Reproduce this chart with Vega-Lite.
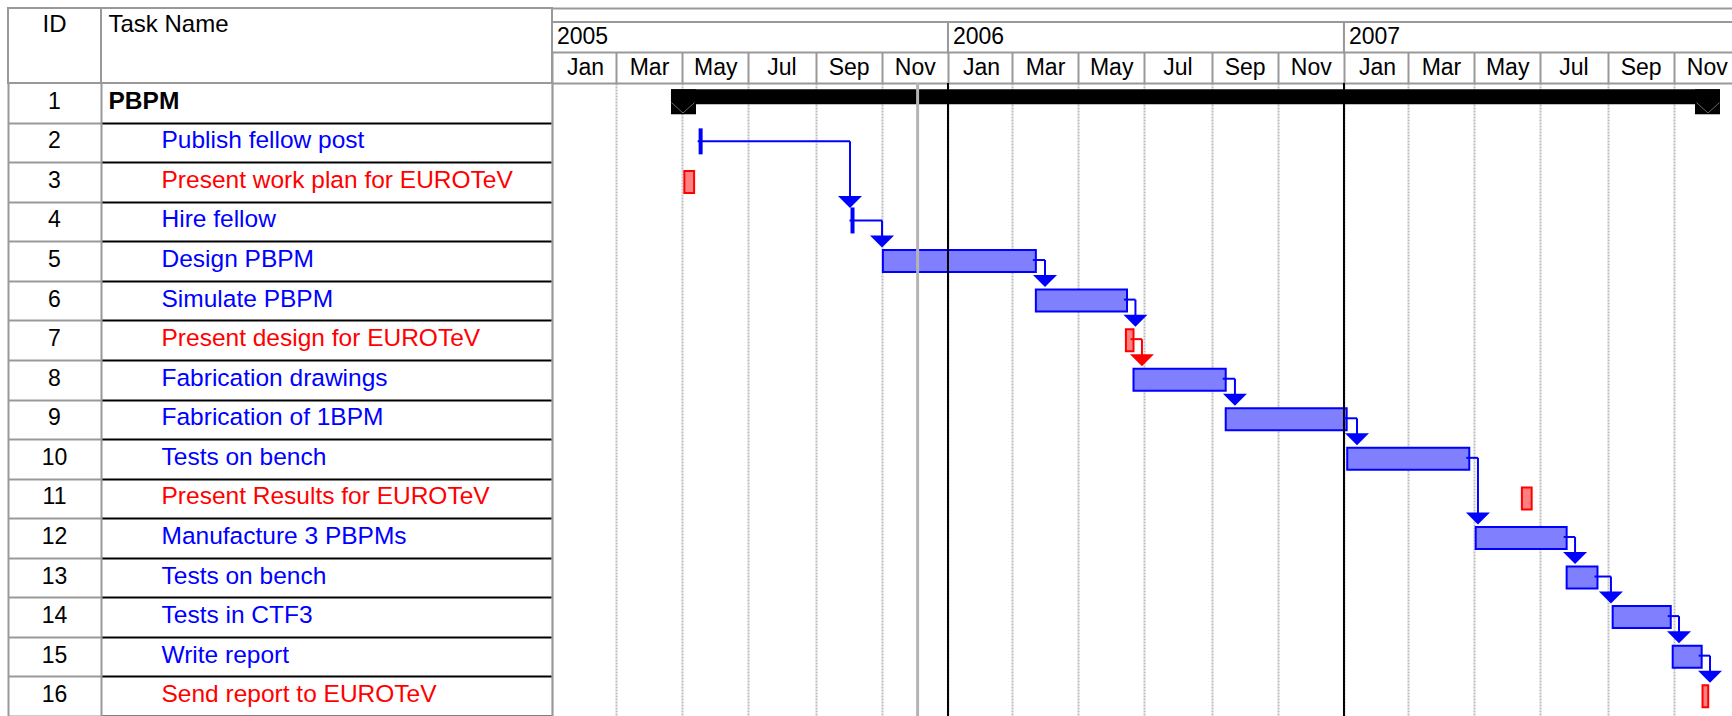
{
  "$schema": "https://vega.github.io/schema/vega-lite/v6.json",
  "padding": {"left": 7, "top": 7, "right": 0, "bottom": 0},
  "background": "white",
  "spacing": 0,
  "bounds": "flush",
  "align": "each",
  "columns": 3,
  "config": {
    "font": "Liberation Sans",
    "view": {"stroke": null},
    "concat": {"spacing": 0}
  },
  "datasets": {
    "tasks": [
      {"id": 1, "name": "PBPM", "level": 0, "type": "summary", "start": "2005-04-20T16:00:00Z", "end": "2007-12-13T14:00:00Z"},
      {"id": 2, "name": "Publish fellow post", "level": 1, "type": "event", "start": "2005-05-18T00:00:00Z", "end": "2005-05-18T00:00:00Z"},
      {"id": 3, "name": "Present work plan for EUROTeV", "level": 1, "type": "deliverable", "start": "2005-05-03T00:00:00Z", "end": "2005-05-12T00:00:00Z"},
      {"id": 4, "name": "Hire fellow", "level": 1, "type": "event", "start": "2005-10-05T00:00:00Z", "end": "2005-10-05T00:00:00Z"},
      {"id": 5, "name": "Design PBPM", "level": 1, "type": "task", "start": "2005-11-02T00:00:00Z", "end": "2006-03-23T00:00:00Z"},
      {"id": 6, "name": "Simulate PBPM", "level": 1, "type": "task", "start": "2006-03-23T00:00:00Z", "end": "2006-06-15T00:00:00Z"},
      {"id": 7, "name": "Present design for EUROTeV", "level": 1, "type": "deliverable", "start": "2006-06-14T00:00:00Z", "end": "2006-06-21T00:00:00Z"},
      {"id": 8, "name": "Fabrication drawings", "level": 1, "type": "task", "start": "2006-06-21T00:00:00Z", "end": "2006-09-14T00:00:00Z"},
      {"id": 9, "name": "Fabrication of 1BPM", "level": 1, "type": "task", "start": "2006-09-14T00:00:00Z", "end": "2007-01-03T12:00:00Z"},
      {"id": 10, "name": "Tests on bench", "level": 1, "type": "task", "start": "2007-01-04T00:00:00Z", "end": "2007-04-26T12:00:00Z"},
      {"id": 11, "name": "Present Results for EUROTeV", "level": 1, "type": "deliverable", "start": "2007-06-14T00:00:00Z", "end": "2007-06-23T00:00:00Z"},
      {"id": 12, "name": "Manufacture 3 PBPMs", "level": 1, "type": "task", "start": "2007-05-02T10:00:00Z", "end": "2007-07-25T06:00:00Z"},
      {"id": 13, "name": "Tests on bench", "level": 1, "type": "task", "start": "2007-07-25T06:00:00Z", "end": "2007-08-22T16:00:00Z"},
      {"id": 14, "name": "Tests in CTF3", "level": 1, "type": "task", "start": "2007-09-05T16:00:00Z", "end": "2007-10-29T05:00:00Z"},
      {"id": 15, "name": "Write report", "level": 1, "type": "task", "start": "2007-10-31T00:00:00Z", "end": "2007-11-26T17:00:00Z"},
      {"id": 16, "name": "Send report to EUROTeV", "level": 1, "type": "deliverable", "start": "2007-11-27T12:00:00Z", "end": "2007-12-02T18:00:00Z"}
    ],
    "links": [
      {"from": 2, "to": 4, "start": "2005-05-18T00:00:00Z", "turn": "2005-10-02T17:00:00Z", "type": "task"},
      {"from": 4, "to": 5, "start": "2005-10-05T00:00:00Z", "turn": "2005-11-01T05:00:00Z", "type": "task"},
      {"from": 5, "to": 6, "start": "2006-03-23T00:00:00Z", "turn": "2006-03-31T10:00:00Z", "type": "task"},
      {"from": 6, "to": 7, "start": "2006-06-15T00:00:00Z", "turn": "2006-06-22T19:00:00Z", "type": "task"},
      {"from": 7, "to": 8, "start": "2006-06-21T00:00:00Z", "turn": "2006-06-28T19:00:00Z", "type": "deliverable"},
      {"from": 8, "to": 9, "start": "2006-09-14T00:00:00Z", "turn": "2006-09-22T12:00:00Z", "type": "task"},
      {"from": 9, "to": 10, "start": "2007-01-03T12:00:00Z", "turn": "2007-01-13T00:00:00Z", "type": "task"},
      {"from": 10, "to": 12, "start": "2007-04-26T12:00:00Z", "turn": "2007-05-04T12:00:00Z", "type": "task"},
      {"from": 12, "to": 13, "start": "2007-07-25T06:00:00Z", "turn": "2007-08-02T00:00:00Z", "type": "task"},
      {"from": 13, "to": 14, "start": "2007-08-22T16:00:00Z", "turn": "2007-09-04T02:00:00Z", "type": "task"},
      {"from": 14, "to": 15, "start": "2007-10-29T05:00:00Z", "turn": "2007-11-05T19:00:00Z", "type": "task"},
      {"from": 15, "to": 16, "start": "2007-11-26T17:00:00Z", "turn": "2007-12-04T10:00:00Z", "type": "task"}
    ],
    "years": [
      {"year": "2005", "start": "2005-01-01T00:00:00Z", "end": "2006-01-01T00:00:00Z"},
      {"year": "2006", "start": "2006-01-01T00:00:00Z", "end": "2007-01-01T00:00:00Z"},
      {"year": "2007", "start": "2007-01-01T00:00:00Z", "end": "2008-01-01T00:00:00Z"}
    ],
    "yearLines": [
      {"date": "2006-01-01T00:00:00Z"},
      {"date": "2007-01-01T00:00:00Z"}
    ],
    "status": [
      {"date": "2005-12-04T00:00:00Z"}
    ]
  },
  "concat": [
    {
      "width": 93,
      "height": 75,
      "view": {"stroke": "#999999", "strokeWidth": 2},
      "data": {"values": [{"h": "ID"}]},
      "mark": {"type": "text", "fontSize": 24, "color": "black", "baseline": "middle", "dy": -21},
      "encoding": {"text": {"field": "h"}}
    },
    {
      "width": 451,
      "height": 75,
      "view": {"stroke": "#999999", "strokeWidth": 2},
      "data": {"values": [{"h": "Task Name"}]},
      "mark": {"type": "text", "fontSize": 24, "color": "black", "baseline": "middle", "align": "left", "dx": -218, "dy": -21},
      "encoding": {"text": {"field": "h"}}
    },
    {
      "width": 1180,
      "height": 75,
      "data": {"name": "years"},
      "layer": [
        {
          "mark": {"type": "rect", "fill": "white", "stroke": "#999999", "strokeWidth": 2, "clip": true},
          "encoding": {
            "x": {
              "field": "start", "type": "temporal",
              "scale": {"type": "utc", "domain": [{"year": 2005, "month": 1, "date": 1, "utc": true}, {"year": 2007, "month": 12, "date": 24, "hours": 16, "utc": true}]},
              "axis": {"orient": "top", "title": null, "domain": true, "domainColor": "#999999", "domainWidth": 2, "labels": false, "ticks": false, "grid": false}
            },
            "x2": {"field": "end"},
            "y": {"datum": "year", "type": "nominal", "scale": {"domain": ["year", "month"], "range": [14, 75], "paddingInner": 0, "paddingOuter": 0}, "axis": null}
          }
        },
        {
          "mark": {"type": "text", "align": "left", "baseline": "middle", "dx": 5, "fontSize": 23, "color": "black"},
          "encoding": {
            "x": {"field": "start", "type": "temporal"},
            "y": {"datum": "year", "type": "nominal"},
            "text": {"field": "year"}
          }
        }
      ]
    },
    {
      "width": 93,
      "height": 633,
      "data": {"name": "tasks"},
      "mark": {"type": "text", "fontSize": 23, "color": "black", "baseline": "middle", "dy": -1},
      "encoding": {
        "y": {
          "field": "id", "type": "ordinal",
          "scale": {"domain": [1, 2, 3, 4, 5, 6, 7, 8, 9, 10, 11, 12, 13, 14, 15, 16], "paddingInner": 0, "paddingOuter": 0},
          "axis": {"orient": "left", "title": null, "domain": true, "domainColor": "#999999", "domainWidth": 2, "labels": false, "ticks": false, "grid": true, "gridColor": "#999999", "gridWidth": 2, "tickBand": "extent", "values": [2, 3, 4, 5, 6, 7, 8, 9, 10, 11, 12, 13, 14, 15, 16]}
        },
        "text": {"field": "id"}
      }
    },
    {
      "width": 451,
      "height": 633,
      "data": {"name": "tasks"},
      "encoding": {
        "y": {
          "field": "id", "type": "ordinal",
          "scale": {"domain": [1, 2, 3, 4, 5, 6, 7, 8, 9, 10, 11, 12, 13, 14, 15, 16], "paddingInner": 0, "paddingOuter": 0},
          "axis": {"orient": "left", "title": null, "domain": true, "domainColor": "#999999", "domainWidth": 2, "labels": false, "ticks": false, "grid": true, "gridColor": "#000000", "gridWidth": 2, "tickBand": "extent", "values": [2, 3, 4, 5, 6, 7, 8, 9, 10, 11, 12, 13, 14, 15, 16]}
        },
        "text": {"field": "name"},
        "color": {"field": "type", "type": "nominal", "scale": {"domain": ["summary", "task", "event", "deliverable"], "range": ["#000000", "#0000ff", "#0000ff", "#ff0000"]}, "legend": null}
      },
      "layer": [
        {
          "transform": [{"filter": "datum.level == 0"}],
          "mark": {"type": "text", "align": "left", "baseline": "middle", "fontSize": 24.5, "fontWeight": "bold", "dx": -218, "dy": -1}
        },
        {
          "transform": [{"filter": "datum.level == 1"}],
          "mark": {"type": "text", "align": "left", "baseline": "middle", "fontSize": 24.5, "dx": -165, "dy": -1}
        }
      ]
    },
    {
      "width": 1180,
      "height": 633,
      "layer": [
        {
          "data": {"name": "tasks"},
          "transform": [{"filter": "datum.type == 'task' || datum.type == 'deliverable'"}],
          "mark": {"type": "bar", "height": 22, "strokeWidth": 2},
          "encoding": {
            "x": {
              "field": "start", "type": "temporal",
              "scale": {"type": "utc", "domain": [{"year": 2005, "month": 1, "date": 1, "utc": true}, {"year": 2007, "month": 12, "date": 24, "hours": 16, "utc": true}]},
              "axis": {
                "orient": "top", "title": null,
                "domain": true, "domainColor": "#999999", "domainWidth": 2,
                "ticks": true, "tickColor": "#999999", "tickWidth": 2, "tickSize": 31,
                "tickCount": {"interval": "month", "step": 2},
                "labels": true, "format": "%b", "labelOffset": 33, "labelPadding": -15, "labelBaseline": "middle", "labelAlign": "center",
                "labelFontSize": 23, "labelColor": "#000000", "labelFont": "Liberation Sans", "labelFlush": false, "labelOverlap": false, "labelBound": false,
                "grid": true, "gridColor": "#bdbdbd", "gridWidth": 2, "gridDash": [2, 1]
              }
            },
            "x2": {"field": "end"},
            "y": {
              "field": "id", "type": "ordinal",
              "scale": {"domain": [1, 2, 3, 4, 5, 6, 7, 8, 9, 10, 11, 12, 13, 14, 15, 16], "paddingInner": 0, "paddingOuter": 0},
              "axis": {"orient": "left", "title": null, "domain": true, "domainColor": "#999999", "domainWidth": 2, "labels": false, "ticks": false, "grid": false}
            },
            "fill": {"field": "type", "type": "nominal", "scale": {"domain": ["task", "deliverable"], "range": ["#8080ff", "#ff8080"]}, "legend": null},
            "stroke": {"field": "type", "type": "nominal", "scale": {"domain": ["task", "deliverable"], "range": ["#0000ff", "#ff0000"]}, "legend": null}
          }
        },
        {
          "data": {"name": "tasks"},
          "transform": [{"filter": "datum.type == 'summary'"}],
          "mark": {"type": "bar", "height": 15, "yOffset": -6, "color": "#000000"},
          "encoding": {
            "x": {"field": "start", "type": "temporal"},
            "x2": {"field": "end"},
            "y": {"field": "id", "type": "ordinal"}
          }
        },
        {
          "data": {"name": "tasks"},
          "transform": [{"filter": "datum.type == 'summary'"}],
          "mark": {"type": "bar", "height": 25, "yOffset": -1, "x2Offset": 25, "color": "#000000"},
          "encoding": {
            "x": {"field": "start", "type": "temporal"},
            "x2": {"field": "start"},
            "y": {"field": "id", "type": "ordinal"}
          }
        },
        {
          "data": {"name": "tasks"},
          "transform": [{"filter": "datum.type == 'summary'"}],
          "mark": {"type": "bar", "height": 25, "yOffset": -1, "xOffset": -25, "color": "#000000"},
          "encoding": {
            "x": {"field": "end", "type": "temporal"},
            "x2": {"field": "end"},
            "y": {"field": "id", "type": "ordinal"}
          }
        },
        {
          "data": {"name": "tasks"},
          "transform": [{"filter": "datum.type == 'summary'"}],
          "mark": {"type": "point", "shape": "M-1,-0.45L0,0.45L1,-0.45", "size": 529, "filled": false, "stroke": "#666666", "strokeWidth": 1, "opacity": 1, "xOffset": 12, "yOffset": 5},
          "encoding": {
            "x": {"field": "start", "type": "temporal"},
            "y": {"field": "id", "type": "ordinal"}
          }
        },
        {
          "data": {"name": "tasks"},
          "transform": [{"filter": "datum.type == 'summary'"}],
          "mark": {"type": "point", "shape": "M-1,-0.45L0,0.45L1,-0.45", "size": 529, "filled": false, "stroke": "#666666", "strokeWidth": 1, "opacity": 1, "xOffset": -12, "yOffset": 5},
          "encoding": {
            "x": {"field": "end", "type": "temporal"},
            "y": {"field": "id", "type": "ordinal"}
          }
        },
        {
          "data": {"name": "tasks"},
          "transform": [{"filter": "datum.type == 'event'"}],
          "mark": {"type": "tick", "thickness": 4, "size": 26, "yOffset": -1, "color": "#0000ff", "opacity": 1},
          "encoding": {
            "x": {"field": "start", "type": "temporal"},
            "y": {"field": "id", "type": "ordinal"}
          }
        },
        {
          "data": {"name": "yearLines"},
          "mark": {"type": "rule", "color": "#000000", "strokeWidth": 2},
          "encoding": {"x": {"field": "date", "type": "temporal"}}
        },
        {
          "data": {"name": "status"},
          "mark": {"type": "rule", "color": "#b4b4b4", "strokeWidth": 3},
          "encoding": {"x": {"field": "date", "type": "temporal"}}
        },
        {
          "data": {"name": "links"},
          "mark": {"type": "rule", "strokeWidth": 2, "xOffset": -3, "yOffset": -1},
          "encoding": {
            "x": {"field": "start", "type": "temporal"},
            "x2": {"field": "turn"},
            "y": {"field": "from", "type": "ordinal"},
            "color": {"field": "type", "type": "nominal", "scale": {"domain": ["task", "deliverable"], "range": ["#0000ff", "#ff0000"]}, "legend": null}
          }
        },
        {
          "data": {"name": "links"},
          "mark": {"type": "rule", "strokeWidth": 2, "yOffset": -1, "y2Offset": -19},
          "encoding": {
            "x": {"field": "turn", "type": "temporal"},
            "y": {"field": "from", "type": "ordinal"},
            "y2": {"field": "to"},
            "color": {"field": "type", "type": "nominal", "legend": null}
          }
        },
        {
          "data": {"name": "links"},
          "mark": {"type": "point", "shape": "M-1,-0.5L1,-0.5L0,0.5Z", "size": 576, "filled": true, "opacity": 1, "strokeWidth": 0, "yOffset": -19.5},
          "encoding": {
            "x": {"field": "turn", "type": "temporal"},
            "y": {"field": "to", "type": "ordinal"},
            "color": {"field": "type", "type": "nominal", "legend": null}
          }
        }
      ]
    }
  ]
}
